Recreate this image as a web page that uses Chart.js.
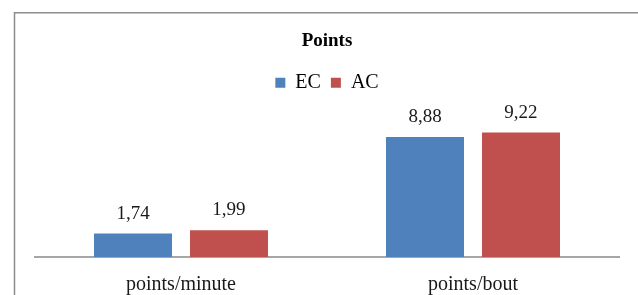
<!DOCTYPE html>
<html>
<head>
<meta charset="utf-8">
<script src="https://cdn.jsdelivr.net/npm/chart.js@4"></script>
<style>
    html, body { margin: 0; padding: 0; background: #fff; }
    .chart-container { position: relative; width: 638px; height: 295px; }
</style>
</head>
<body>
<div class="chart-container"><canvas id="pointsChart"></canvas></div>
<script>
const categories = ['points/minute', 'points/bout'];
const ecValues = [1.74, 8.88];
const acValues = [1.99, 9.22];

const COLORS = {
    blue: '#4f81bd',
    red: '#c0504d',
    frame: '#8c8c8c',
    axis: '#a6a6a6',
    text: '#1a1a1a',
};

const SERIF = "'Liberation Serif', 'Times New Roman', serif";

function formatValue(v) {
    return v.toFixed(2).replace('.', ',');
}

// outer frame of the original picture (only left and top edges are visible)
const framePlugin = {
    id: 'frame',
    beforeDraw(chart) {
        const ctx = chart.ctx;
        ctx.save();
        ctx.strokeStyle = COLORS.frame;
        ctx.lineWidth = 1.5;
        ctx.beginPath();
        ctx.moveTo(14.5, chart.height);
        ctx.lineTo(14.5, 12.75);
        ctx.lineTo(chart.width, 12.75);
        ctx.stroke();
        ctx.restore();
    }
};

// value labels above each bar
const valueLabels = {
    id: 'valueLabels',
    afterDatasetsDraw(chart) {
        const ctx = chart.ctx;
        ctx.save();
        ctx.font = '19px ' + SERIF;
        ctx.fillStyle = COLORS.text;
        ctx.textAlign = 'center';
        ctx.textBaseline = 'alphabetic';
        chart.data.datasets.forEach((ds, i) => {
            chart.getDatasetMeta(i).data.forEach((bar, j) => {
                ctx.fillText(formatValue(ds.data[j]), bar.x, bar.y - 15);
            });
        });
        ctx.restore();
    }
};

const ctx = document.getElementById('pointsChart').getContext('2d');
const chart = new Chart(ctx, {
    type: 'bar',
    data: {
        labels: categories,
        datasets: [
            { label: 'EC', data: ecValues, backgroundColor: COLORS.blue },
            { label: 'AC', data: acValues, backgroundColor: COLORS.red }
        ]
    },
    options: {
        responsive: true,
        maintainAspectRatio: false,
        animation: false,
        categoryPercentage: 0.6575,
        barPercentage: 0.8125,
        layout: {
            padding: { left: 35, right: 19, top: 0, bottom: 0 }
        },
        plugins: {
            title: {
                display: true,
                text: 'Points',
                color: '#000',
                font: { family: SERIF, size: 19, weight: 'bold', lineHeight: 1.2 },
                padding: { top: 29.4, bottom: 10.5 }
            },
            legend: {
                display: true,
                position: 'top',
                labels: {
                    boxWidth: 10,
                    boxHeight: 10,
                    color: '#000',
                    padding: 10,
                    font: { family: SERIF, size: 20 }
                }
            },
            tooltip: { enabled: false }
        },
        scales: {
            x: {
                grid: { display: false, drawTicks: false },
                border: { display: true, color: COLORS.axis, width: 2 },
                ticks: {
                    color: COLORS.text,
                    padding: 18,
                    font: { family: SERIF, size: 20, lineHeight: 1 }
                },
                afterFit(scale) {
                    scale.height = 38;
                }
            },
            y: {
                display: false,
                min: 0,
                max: 11.43
            }
        }
    },
    plugins: [framePlugin, valueLabels]
});
</script>
</body>
</html>
